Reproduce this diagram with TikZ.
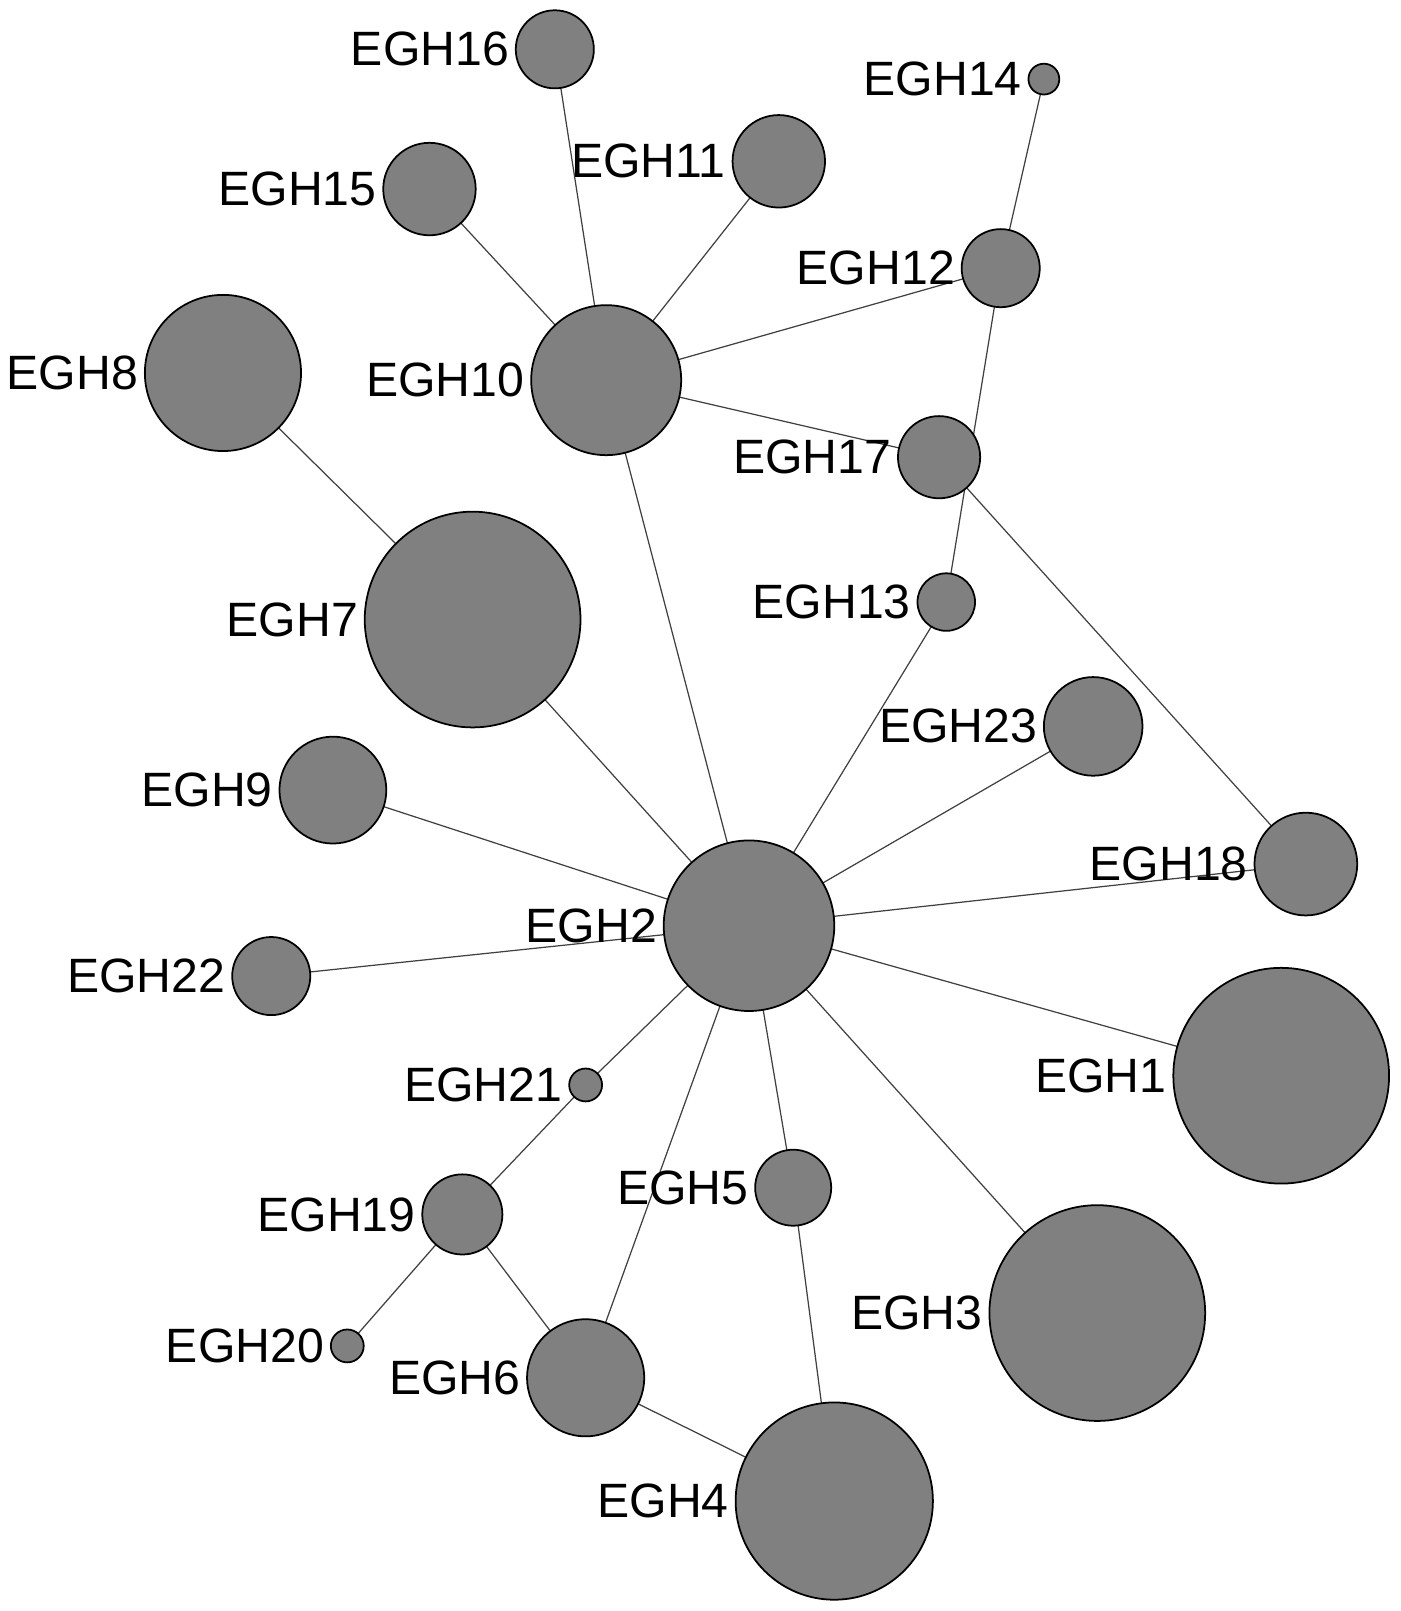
\documentclass[tikz,border=0pt]{standalone}
\usepackage{fontspec}
\setmainfont{Liberation Sans}
\definecolor{hapgray}{RGB}{128,128,128}
\pgfdeclarelayer{edges}
\pgfsetlayers{edges,main}
\begin{document}
\begin{tikzpicture}[x=0.010272cm,y=-0.010272cm]
	\tikzset{hap/.style={circle,draw=black,line width=0.5pt,fill=hapgray,inner sep=0pt,minimum size=#1*0.020544cm},
	         lab/.style={font=\fontsize{13.7}{15}\selectfont,inner sep=1.5pt},
	         edge/.style={line width=0.35pt,draw=black!75}}
	\useasboundingbox (0,0) rectangle (1363,1568);
	\node[hap=38,label={[lab]left:EGH16}] (h16) at (540,48) {};
	\node[hap=15,label={[lab]left:EGH14}] (h14) at (1016,77) {};
	\node[hap=45,label={[lab]left:EGH11}] (h11) at (758,157) {};
	\node[hap=45,label={[lab]left:EGH15}] (h15) at (418,184) {};
	\node[hap=38,label={[lab]left:EGH12}] (h12) at (974,261) {};
	\node[hap=76,label={[lab]left:EGH8}] (h8) at (217,363) {};
	\node[hap=73,label={[lab]left:EGH10}] (h10) at (590,370) {};
	\node[hap=40,label={[lab]left:EGH17}] (h17) at (914,445) {};
	\node[hap=105,label={[lab]left:EGH7}] (h7) at (460,603) {};
	\node[hap=28,label={[lab]left:EGH13}] (h13) at (921,586) {};
	\node[hap=48,label={[lab]left:EGH23}] (h23) at (1064,707) {};
	\node[hap=52,label={[lab]left:EGH9}] (h9) at (324,769) {};
	\node[hap=50,label={[lab]left:EGH18}] (h18) at (1271,841) {};
	\node[hap=83,label={[lab]left:EGH2}] (h2) at (729,901) {};
	\node[hap=38,label={[lab]left:EGH22}] (h22) at (264,950) {};
	\node[hap=105,label={[lab]left:EGH1}] (h1) at (1247,1047) {};
	\node[hap=16,label={[lab]left:EGH21}] (h21) at (570,1056) {};
	\node[hap=37,label={[lab]left:EGH5}] (h5) at (772,1156) {};
	\node[hap=39,label={[lab]left:EGH19}] (h19) at (450,1182) {};
	\node[hap=105,label={[lab]left:EGH3}] (h3) at (1068,1278) {};
	\node[hap=16,label={[lab]left:EGH20}] (h20) at (338,1310) {};
	\node[hap=57,label={[lab]left:EGH6}] (h6) at (570,1341) {};
	\node[hap=96,label={[lab]left:EGH4}] (h4) at (812,1461) {};
	% links run centre to centre, behind the circles
	\begin{pgfonlayer}{edges}
	\draw[edge] (h16.center)--(h10.center); \draw[edge] (h15.center)--(h10.center);
	\draw[edge] (h11.center)--(h10.center); \draw[edge] (h12.center)--(h10.center);
	\draw[edge] (h14.center)--(h12.center); \draw[edge] (h12.center)--(h13.center);
	\draw[edge] (h17.center)--(h18.center); \draw[edge] (h10.center)--(h17.center);
	\draw[edge] (h10.center)--(h2.center);
	\draw[edge] (h8.center)--(h7.center); \draw[edge] (h7.center)--(h2.center);
	\draw[edge] (h13.center)--(h2.center); \draw[edge] (h23.center)--(h2.center);
	\draw[edge] (h9.center)--(h2.center); \draw[edge] (h18.center)--(h2.center);
	\draw[edge] (h22.center)--(h2.center); \draw[edge] (h1.center)--(h2.center);
	\draw[edge] (h3.center)--(h2.center); \draw[edge] (h5.center)--(h2.center);
	\draw[edge] (h6.center)--(h2.center); \draw[edge] (h21.center)--(h2.center);
	\draw[edge] (h21.center)--(h19.center); \draw[edge] (h19.center)--(h20.center);
	\draw[edge] (h19.center)--(h6.center); \draw[edge] (h6.center)--(h4.center);
	\draw[edge] (h5.center)--(h4.center);
	\end{pgfonlayer}
\end{tikzpicture}
\end{document}
